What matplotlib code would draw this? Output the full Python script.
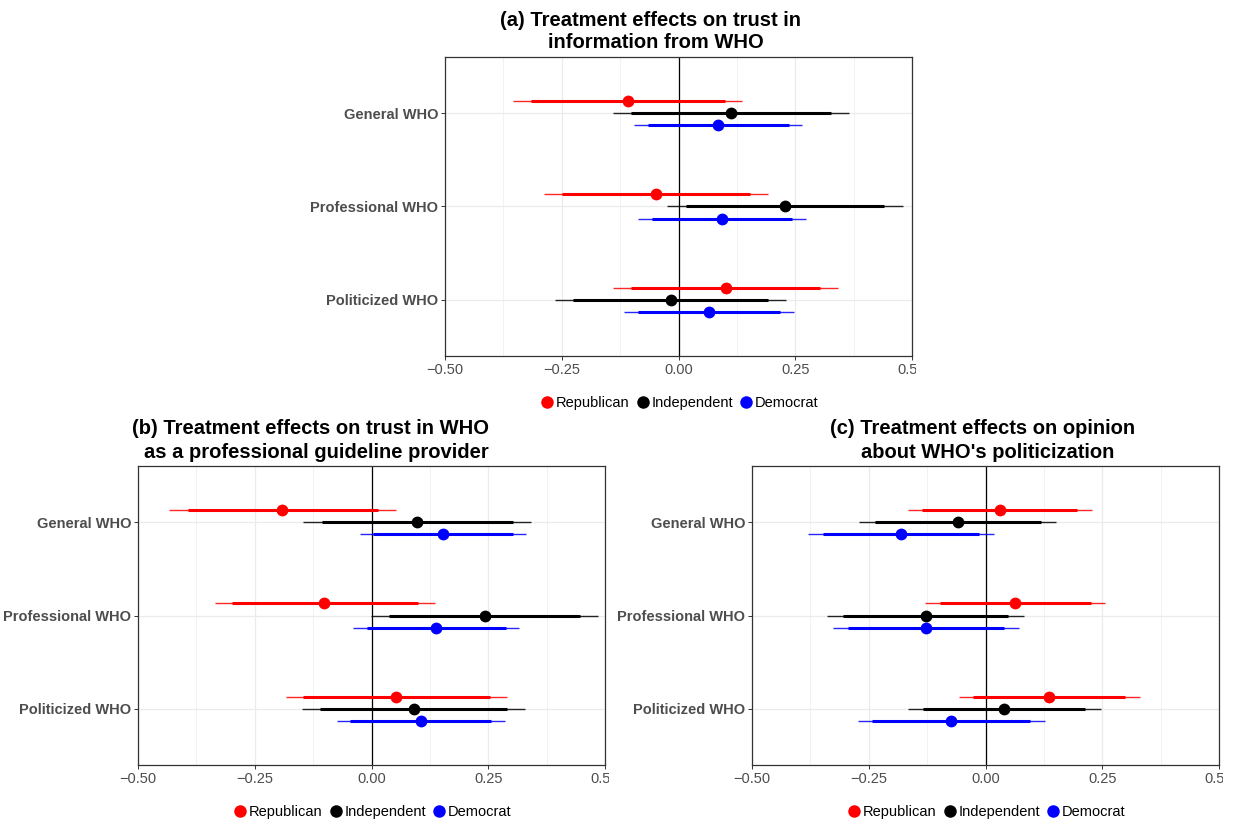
import numpy as np
import matplotlib
matplotlib.use("Agg")
import matplotlib.pyplot as plt
from matplotlib.lines import Line2D
from matplotlib.transforms import Bbox, TransformedBbox

plt.rcParams['font.family'] = ['Liberation Sans', 'DejaVu Sans']

categories = ["General WHO", "Professional WHO", "Politicized WHO"]
parties = ["Republican", "Independent", "Democrat"]
colors = ["#ff0000", "#000000", "#0000ff"]
xticks = [-0.5, -0.25, 0.0, 0.25, 0.5]
xticklabels = ["\u22120.50", "\u22120.25", "0.00", "0.25", "0.50"]

# rows: Republican, Independent, Democrat; cols: General, Professional, Politicized
a_est = [[-0.109, -0.049, 0.101], [0.112, 0.228, -0.017], [0.084, 0.093, 0.065]]
a_lo95 = [[-0.354, -0.287, -0.140], [-0.141, -0.025, -0.265], [-0.095, -0.086, -0.116]]
a_hi95 = [[0.137, 0.191, 0.342], [0.365, 0.480, 0.231], [0.264, 0.272, 0.247]]
a_lo90 = [[-0.316, -0.250, -0.102], [-0.101, 0.015, -0.225], [-0.066, -0.057, -0.087]]
a_hi90 = [[0.099, 0.153, 0.304], [0.326, 0.440, 0.192], [0.236, 0.244, 0.218]]

b_est = [[-0.191, -0.101, 0.053], [0.097, 0.242, 0.091], [0.153, 0.139, 0.106]]
b_lo95 = [[-0.434, -0.336, -0.184], [-0.146, -0.001, -0.148], [-0.024, -0.039, -0.074]]
b_hi95 = [[0.052, 0.136, 0.291], [0.341, 0.485, 0.329], [0.331, 0.316, 0.285]]
b_lo90 = [[-0.394, -0.299, -0.146], [-0.107, 0.038, -0.110], [0.004, -0.010, -0.046]]
b_hi90 = [[0.014, 0.099, 0.254], [0.302, 0.446, 0.291], [0.304, 0.288, 0.256]]

c_est = [[0.031, 0.064, 0.136], [-0.059, -0.128, 0.040], [-0.181, -0.128, -0.073]]
c_lo95 = [[-0.167, -0.129, -0.057], [-0.270, -0.339, -0.166], [-0.380, -0.326, -0.274]]
c_hi95 = [[0.228, 0.256, 0.330], [0.152, 0.083, 0.248], [0.019, 0.071, 0.128]]
c_lo90 = [[-0.135, -0.098, -0.026], [-0.237, -0.305, -0.133], [-0.348, -0.294, -0.242]]
c_hi90 = [[0.196, 0.225, 0.299], [0.118, 0.049, 0.214], [-0.013, 0.040, 0.096]]

W, H = 1233, 822
fig = plt.figure(figsize=(W / 100, H / 100), dpi=100)


def panel(left, top, est, lo95, hi95, lo90, hi90):
    ax = fig.add_axes([left / W, 1 - (top + 299) / H, 467 / W, 299 / H])
    ypos = np.array([3, 2, 1])
    offs = [0.133, 0.0, -0.133]
    for i in range(3):
        y = ypos + offs[i]
        ax.hlines(y, lo95[i], hi95[i], color=colors[i], lw=1.0, alpha=0.85, zorder=3)
        ax.hlines(y, lo90[i], hi90[i], color=colors[i], lw=2.2, zorder=4)
        ax.plot(est[i], y, "o", color=colors[i], ms=8.5, mew=0, zorder=5)
    ax.axvline(0, color="black", lw=0.9, zorder=2)
    ax.set_xlim(-0.5, 0.5)
    ax.set_ylim(0.4, 3.6)
    ax.set_xticks(xticks)
    ax.set_xticklabels(xticklabels)
    ax.set_xticks([-0.375, -0.125, 0.125, 0.375], minor=True)
    ax.set_yticks(ypos)
    ax.set_yticklabels(categories, fontweight="bold")
    ax.grid(True, which="major", color="#ebebeb", lw=0.9, zorder=0)
    ax.grid(True, which="minor", axis="x", color="#f0f0f0", lw=0.6, zorder=0)
    ax.set_axisbelow(True)
    ax.tick_params(axis="both", which="major", length=3, width=0.7, color="#333333",
                   labelsize=10.5, labelcolor="#4d4d4d", pad=2)
    ax.tick_params(axis="x", which="minor", length=0)
    for s in ax.spines.values():
        s.set_color("#333333")
        s.set_linewidth(0.9)
    # clip the right-most tick label like the original
    clip = TransformedBbox(Bbox([[0, 0], [(left + 471) / W, 1]]), fig.transFigure)
    for lab in ax.get_xticklabels():
        lab.set_clip_on(True)
        lab.set_clip_box(clip)
    handles = [Line2D([], [], marker="o", ls="", color=c, ms=9, mew=0) for c in colors]
    ax.legend(handles, parties, loc="center", bbox_to_anchor=(0.5, -0.157), ncol=3,
              frameon=False, fontsize=10.5, handletextpad=0.0, columnspacing=0.3,
              handlelength=1.2)
    return ax


panel(445, 57, a_est, a_lo95, a_hi95, a_lo90, a_hi90)
panel(138, 466, b_est, b_lo95, b_hi95, b_lo90, b_hi90)
panel(752, 466, c_est, c_lo95, c_hi95, c_lo90, c_hi90)

tkw = dict(ha="center", va="center", fontsize=14.5, fontweight="bold")
fig.text(650 / W, 1 - 20 / H, "(a) Treatment effects on trust in", **tkw)
fig.text(656 / W, 1 - 43 / H, "information from WHO", **tkw)
fig.text(310 / W, 1 - 428 / H, "(b) Treatment effects on trust in WHO", **tkw)
fig.text(316 / W, 1 - 452 / H, "as a professional guideline provider", **tkw)
fig.text(983 / W, 1 - 428 / H, "(c) Treatment effects on opinion", **tkw)
fig.text(988 / W, 1 - 452 / H, "about WHO's politicization", **tkw)

fig.savefig("out.png", dpi=100)
